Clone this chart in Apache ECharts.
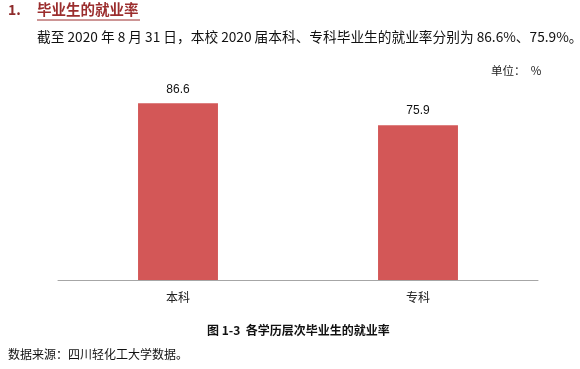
<!DOCTYPE html>
<html><head><meta charset="utf-8">
<script src="https://cdn.jsdelivr.net/npm/echarts@6/dist/echarts.min.js"></script>
<style>html,body{margin:0;padding:0;background:#fff}#c{width:580px;height:369px}</style>
</head><body><div id="c"></div>
<script>
const categories = ['本科', '专科'];
const values = [86.6, 75.9];
const headingNum = '1.';
const heading = '毕业生的就业率';
const intro = '截至 2020 年 8 月 31 日，本校 2020 届本科、专科毕业生的就业率分别为 86.6%、75.9%。';
const unitText = '单位：  %';
const caption = '图 1-3  各学历层次毕业生的就业率';
const source = '数据来源：四川轻化工大学数据。';

const FONT = '"Noto Sans CJK SC", "Microsoft YaHei", sans-serif';
const chart = echarts.init(document.getElementById('c'));
chart.setOption({
  animation: false,
  grid: { left: 58, right: 42, top: 76, bottom: 89 },
  xAxis: {
    type: 'category', data: categories,
    axisLine: { lineStyle: { color: '#a6a6a6', width: 1 } },
    axisTick: { inside: true, length: 4, lineStyle: { color: '#a6a6a6' } },
    axisLabel: { color: '#222', fontSize: 12, fontFamily: FONT, margin: 11 }
  },
  yAxis: { type: 'value', min: 0, max: 100, show: false, splitLine: { show: false } },
  series: [{
    type: 'bar', data: values, barWidth: '33.3%',
    itemStyle: { color: '#D35757' },
    label: { show: true, position: 'top', distance: 8, color: '#111', fontSize: 12, fontFamily: 'Arial, sans-serif' }
  }],
  graphic: [
    { type: 'text', left: 8, top: 3, style: { text: headingNum, fill: '#8E2B2B', font: 'bold 14px ' + FONT } },
    { type: 'text', left: 37, top: 2, style: { text: heading, fill: '#9B2D2D', font: 'bold 14.5px ' + FONT } },
    { type: 'line', shape: { x1: 37, y1: 20, x2: 140, y2: 20 }, style: { stroke: '#9B2D2D', lineWidth: 1 } },
    { type: 'text', left: 37, top: 30, style: { text: intro, fill: '#111', font: '13.7px ' + FONT } },
    { type: 'text', left: 491, top: 65, style: { text: unitText, fill: '#222', font: '11.5px ' + FONT } },
    { type: 'text', left: 207, top: 324, style: { text: caption, fill: '#111', font: 'bold 12px ' + FONT } },
    { type: 'text', left: 8, top: 348, style: { text: source, fill: '#111', font: '12px ' + FONT } }
  ]
});
</script></body></html>
